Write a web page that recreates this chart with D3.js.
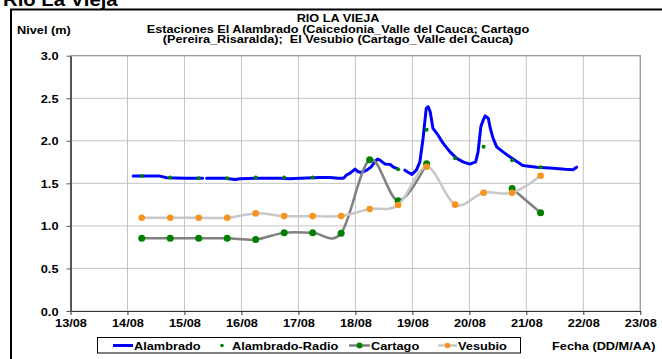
<!DOCTYPE html>
<html><head><meta charset="utf-8">
<script src="https://cdn.jsdelivr.net/npm/d3@7"></script>
<style>
body{margin:0;background:#fff;overflow:hidden}
text{font-family:Arial,"Liberation Sans",sans-serif;font-weight:bold;fill:#000;white-space:pre}
</style>
</head><body>
<svg id="chart" width="662" height="359"></svg>
<script>
// ---------- DATA ----------
const alambradoTimes = ["14/08 02:24","14/08 13:40","14/08 16:30","15/08 00:10","15/08 07:40","15/08 08:30","15/08 09:20","15/08 17:00","15/08 21:20","15/08 23:20","16/08 07:40","16/08 16:20","16/08 20:20","17/08 00:40","17/08 09:10","17/08 13:10","17/08 16:50","17/08 19:00","17/08 20:20","17/08 21:40","17/08 23:50","18/08 01:10","18/08 02:40","18/08 04:50","18/08 06:40","18/08 08:10","18/08 09:20","18/08 10:20","18/08 12:30","18/08 14:40","18/08 15:50","18/08 17:20","18/08 19:00","18/08 20:50","18/08 22:20","18/08 23:50","19/08 01:40","19/08 03:10","19/08 04:30","19/08 05:50","19/08 06:40","19/08 07:30","19/08 08:40","19/08 10:50","19/08 13:00","19/08 15:50","19/08 18:40","19/08 21:20","20/08 00:10","20/08 02:40","20/08 03:40","20/08 04:50","20/08 05:50","20/08 06:40","20/08 08:00","20/08 08:50","20/08 10:00","20/08 11:30","20/08 14:10","20/08 17:00","20/08 22:30","21/08 04:20","21/08 09:50","21/08 16:20","21/08 19:40","21/08 21:10"];
const alambradoValues = [1.585,1.585,1.565,1.56,1.56,null,1.56,1.56,1.545,1.555,1.56,1.56,1.555,1.56,1.57,1.57,1.56,1.56,1.60,1.617,1.667,1.636,1.628,1.655,1.694,1.753,1.785,1.773,1.726,1.722,1.694,1.675,null,1.655,1.628,1.605,1.655,1.753,2.028,2.38,2.40,2.34,2.145,2.066,1.969,1.870,1.793,1.753,1.726,1.753,1.87,2.164,2.243,2.293,2.262,2.145,2.028,1.929,1.87,1.812,1.71,1.69,1.68,1.665,1.66,1.69];

const radioTimes = ["14/08 06:00","14/08 18:00","15/08 06:00","15/08 18:00","16/08 06:00","16/08 18:00","17/08 06:00","18/08 18:00","19/08 06:00","19/08 18:00","20/08 06:00","20/08 18:00","21/08 06:00"];
const radioValues = [1.585,1.57,1.56,1.56,1.57,1.57,1.57,1.667,2.13,1.795,1.93,1.77,1.69];

const stationTimes = ["14/08 06:00","14/08 18:00","15/08 06:00","15/08 18:00","16/08 06:00","16/08 18:00","17/08 06:00","17/08 18:00","18/08 06:00","18/08 18:00","19/08 06:00","19/08 18:00","20/08 06:00","20/08 18:00","21/08 06:00"];
const cartagoValues = [0.855,0.855,0.855,0.855,0.84,0.92,0.92,0.915,1.777,1.295,1.73,null,null,1.44,1.155];
const vesubioValues = [1.095,1.095,1.095,1.095,1.147,1.115,1.115,1.115,1.198,1.245,1.695,1.25,1.39,1.39,1.59];

const xDomain = ["13/08 00:00","23/08 00:00"];
const yTicks = [0,0.5,1,1.5,2,2.5,3];

const titleText = "Rio La Vieja";
const chartTitle = ["RIO LA VIEJA","Estaciones El Alambrado (Caicedonia_Valle del Cauca; Cartago","(Pereira_Risaralda);  El Vesubio (Cartago_Valle del Cauca)"];
const yLabel = "Nivel (m)";
const xLabel = "Fecha (DD/M/AA)";
const seriesNames = ["Alambrado","Alambrado-Radio","Cartago","Vesubio"];

// ---------- DRAW ----------
const SX = 1.16; // horizontal text stretch
const parse = d3.timeParse("%d/%m %H:%M");
const svg = d3.select("#chart");

const x = d3.scaleTime().domain(xDomain.map(parse)).range([70.5, 640.3]);
const y = d3.scaleLinear().domain([0,3]).range([311, 55.7]);

function pts(times, vals){ return times.map((t,i)=>({t:parse(t), v:vals[i]})); }
const alam = pts(alambradoTimes, alambradoValues);
const radio = pts(radioTimes, radioValues);
const cart = pts(stationTimes, cartagoValues);
const vesu = pts(stationTimes, vesubioValues);

function stext(g, str, tx, ty, anchor, size, sx){
  return g.append("text").attr("transform",`translate(${tx},${ty}) scale(${sx||SX},1)`)
    .attr("text-anchor",anchor||"start").style("font-size",(size||11)+"px").text(str);
}

// outer frame
svg.append("rect").attr("x",11).attr("y",9.5).attr("width",720).attr("height",400)
  .attr("fill","#fff").attr("stroke","#000").attr("stroke-width",2);

// big page title (clipped at top)
stext(svg, titleText, 3, 6, "start", 17.5);

// chart titles
chartTitle.forEach((s,i)=> stext(svg, s, 338, 22 + i*10.5, "middle", 10, 1.27));
stext(svg, yLabel, 17, 34, "start", 11);
stext(svg, xLabel, 552, 350, "start", 11);

// grid
const days = x.ticks(d3.timeDay.every(1));
const grid = svg.append("g");
grid.selectAll("line.v").data(days).join("line")
  .attr("x1",d=>x(d)).attr("x2",d=>x(d)).attr("y1",y(3)).attr("y2",y(0))
  .attr("stroke","#c4c4c4").attr("stroke-width",1);
grid.selectAll("line.h").data(yTicks).join("line")
  .attr("x1",x.range()[0]).attr("x2",x.range()[1]).attr("y1",d=>y(d)).attr("y2",d=>y(d))
  .attr("stroke","#c4c4c4").attr("stroke-width",1);
// plot frame top/right
svg.append("path").attr("d",`M${x.range()[0]},${y(3)}H${x.range()[1]}V${y(0)}`)
  .attr("fill","none").attr("stroke","#999").attr("stroke-width",1.2);

// axes
const xAxis = svg.append("g").attr("transform",`translate(0,${y(0)})`)
  .call(d3.axisBottom(x).ticks(d3.timeDay.every(1)).tickFormat(d3.timeFormat("%d/%m")).tickSize(4).tickSizeOuter(0));
xAxis.select(".domain").attr("stroke","#333").attr("stroke-width",1);
xAxis.selectAll(".tick line").attr("stroke","#333");
xAxis.selectAll(".tick text").attr("y",0).attr("dy",0)
  .attr("transform",`translate(0,16) scale(${SX},1)`).style("font-size","11px").attr("font-family",null);

const yAxis = svg.append("g").attr("transform",`translate(${x.range()[0]},0)`)
  .call(d3.axisLeft(y).tickValues(yTicks).tickFormat(d3.format(".1f")).tickSize(4).tickSizeOuter(0));
yAxis.select(".domain").attr("stroke","#555").attr("stroke-width",2);
yAxis.selectAll(".tick line").attr("stroke","#555");
yAxis.selectAll(".tick text").attr("x",0).attr("dy",0)
  .attr("transform",`translate(-12,4) scale(${SX},1)`).style("font-size","11px").attr("font-family",null);

// series
const plot = svg.append("g");
const lineLin = d3.line().defined(d=>d.v!=null).x(d=>x(d.t)).y(d=>y(d.v));
const lineSmooth = d3.line().defined(d=>d.v!=null).x(d=>x(d.t)).y(d=>y(d.v)).curve(d3.curveCatmullRom.alpha(0));

plot.append("path").datum(alam).attr("d",lineLin).attr("fill","none")
  .attr("stroke","#0000ff").attr("stroke-width",3).attr("stroke-linejoin","round").attr("stroke-linecap","round");
plot.selectAll("circle.radio").data(radio).join("circle").attr("class","radio")
  .attr("cx",d=>x(d.t)).attr("cy",d=>y(d.v)).attr("r",2).attr("fill","#008000");

plot.append("path").datum(cart).attr("d",lineSmooth).attr("fill","none")
  .attr("stroke","#808080").attr("stroke-width",2.5);
plot.selectAll("circle.cart").data(cart.filter(d=>d.v!=null)).join("circle").attr("class","cart")
  .attr("cx",d=>x(d.t)).attr("cy",d=>y(d.v)).attr("r",3.5).attr("fill","#008000");

plot.append("path").datum(vesu).attr("d",lineSmooth).attr("fill","none")
  .attr("stroke","#c8c8c8").attr("stroke-width",2.5);
plot.selectAll("circle.ves").data(vesu).join("circle").attr("class","ves")
  .attr("cx",d=>x(d.t)).attr("cy",d=>y(d.v)).attr("r",3.3).attr("fill","#f7931e");

// legend
const lg = svg.append("g");
lg.append("rect").attr("x",97.5).attr("y",337.5).attr("width",423).attr("height",15.5)
  .attr("fill","#fff").attr("stroke","#000").attr("stroke-width",1);
const ly = 345.5;
// Alambrado
lg.append("line").attr("x1",113).attr("x2",133).attr("y1",ly).attr("y2",ly).attr("stroke","#0000ff").attr("stroke-width",3);
stext(lg, seriesNames[0], 134, ly+4, "start", 11);
// Radio
lg.append("circle").attr("cx",222).attr("cy",ly).attr("r",1.8).attr("fill","#008000");
stext(lg, seriesNames[1], 232, ly+4, "start", 11);
// Cartago
lg.append("line").attr("x1",349).attr("x2",370).attr("y1",ly).attr("y2",ly).attr("stroke","#808080").attr("stroke-width",2.5);
lg.append("circle").attr("cx",359.5).attr("cy",ly).attr("r",3).attr("fill","#008000");
stext(lg, seriesNames[2], 371, ly+4, "start", 11);
// Vesubio
lg.append("line").attr("x1",438).attr("x2",457).attr("y1",ly).attr("y2",ly).attr("stroke","#c8c8c8").attr("stroke-width",2.5);
lg.append("circle").attr("cx",447.5).attr("cy",ly).attr("r",2.8).attr("fill","#f7931e");
stext(lg, seriesNames[3], 458, ly+4, "start", 11);
</script>
</body></html>
